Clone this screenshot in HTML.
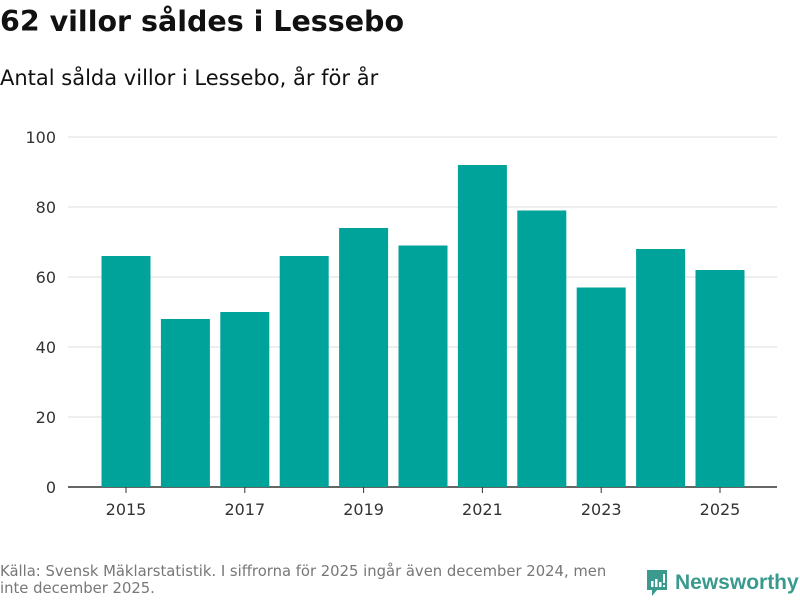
<!DOCTYPE html>
<html><head><meta charset="utf-8"><style>
body{margin:0;width:800px;height:600px;background:#fff;font-family:"DejaVu Sans","Liberation Sans",sans-serif;overflow:hidden;position:relative}
#t{position:absolute;left:0;top:5px;font-size:28.5px;font-weight:bold;color:#111}
#s{position:absolute;left:0;top:66px;font-size:21px;color:#111}
#f{position:absolute;left:0;top:563px;font-size:14.8px;color:#777;line-height:17px;width:634px}
#logo{position:absolute;left:645px;top:568px;font-size:21px;font-weight:bold;color:#3a9a8e;display:flex;align-items:center;gap:6px;font-family:"Liberation Sans",sans-serif}
</style></head><body>
<div id="t">62 villor såldes i Lessebo</div>
<div id="s">Antal sålda villor i Lessebo, år för år</div>
<svg id="c" width="800" height="600" style="position:absolute;left:0;top:0"></svg>
<div id="f">Källa: Svensk Mäklarstatistik. I siffrorna för 2025 ingår även december 2024, men inte december 2025.</div>
<div id="logo"><svg width="24" height="30" viewBox="0 0 24 30"><path d="M2 2h20v20H12l-5 6v-6H2z" fill="#3a9a8e"/><rect x="6" y="13" width="2.5" height="6" fill="#fff"/><rect x="10" y="11" width="2.5" height="8" fill="#fff"/><rect x="14" y="14" width="2.5" height="5" fill="#fff"/><rect x="18" y="6" width="2" height="9" fill="#fff"/><rect x="18" y="17" width="2" height="2" fill="#fff"/></svg><span>Newsworthy</span></div>
<script>
const years=[2015,2016,2017,2018,2019,2020,2021,2022,2023,2024,2025];
const values=[66,48,50,66,74,69,92,79,57,68,62];
const yTicks=[0,20,40,60,80,100];
const NS="http://www.w3.org/2000/svg";
const svg=document.getElementById('c');
const y=v=>487-v*3.5;
const x=i=>126+i*59.4;
function mk(t,a){const e=document.createElementNS(NS,t);for(const k in a)e.setAttribute(k,a[k]);svg.appendChild(e);return e;}
yTicks.forEach(v=>{
 const l=mk('line',{x1:68,x2:777,y1:y(v),y2:y(v),stroke:v===0?'#333':'#ddd','stroke-width':v===0?1.5:1});
 
 
 const t=mk('text',{x:56,y:y(v)+6,'text-anchor':'end','font-size':16,fill:'#333','font-family':'DejaVu Sans, Liberation Sans, sans-serif'});
 t.textContent=v;
 
 
});
values.forEach((v,i)=>{
 const r=mk('rect',{x:x(i)-24.5,y:y(v),width:49,height:v*3.5,fill:'#00a39a'});
 
 
 if(i%2===0){
  const tk=mk('line',{x1:x(i),x2:x(i),y1:487,y2:493,stroke:'#333'});
  
  
  const t=mk('text',{x:x(i),y:515,'text-anchor':'middle','font-size':16,fill:'#333','font-family':'DejaVu Sans, Liberation Sans, sans-serif'});
  t.textContent=years[i];
  
  
 }
});
</script>
</body></html>
